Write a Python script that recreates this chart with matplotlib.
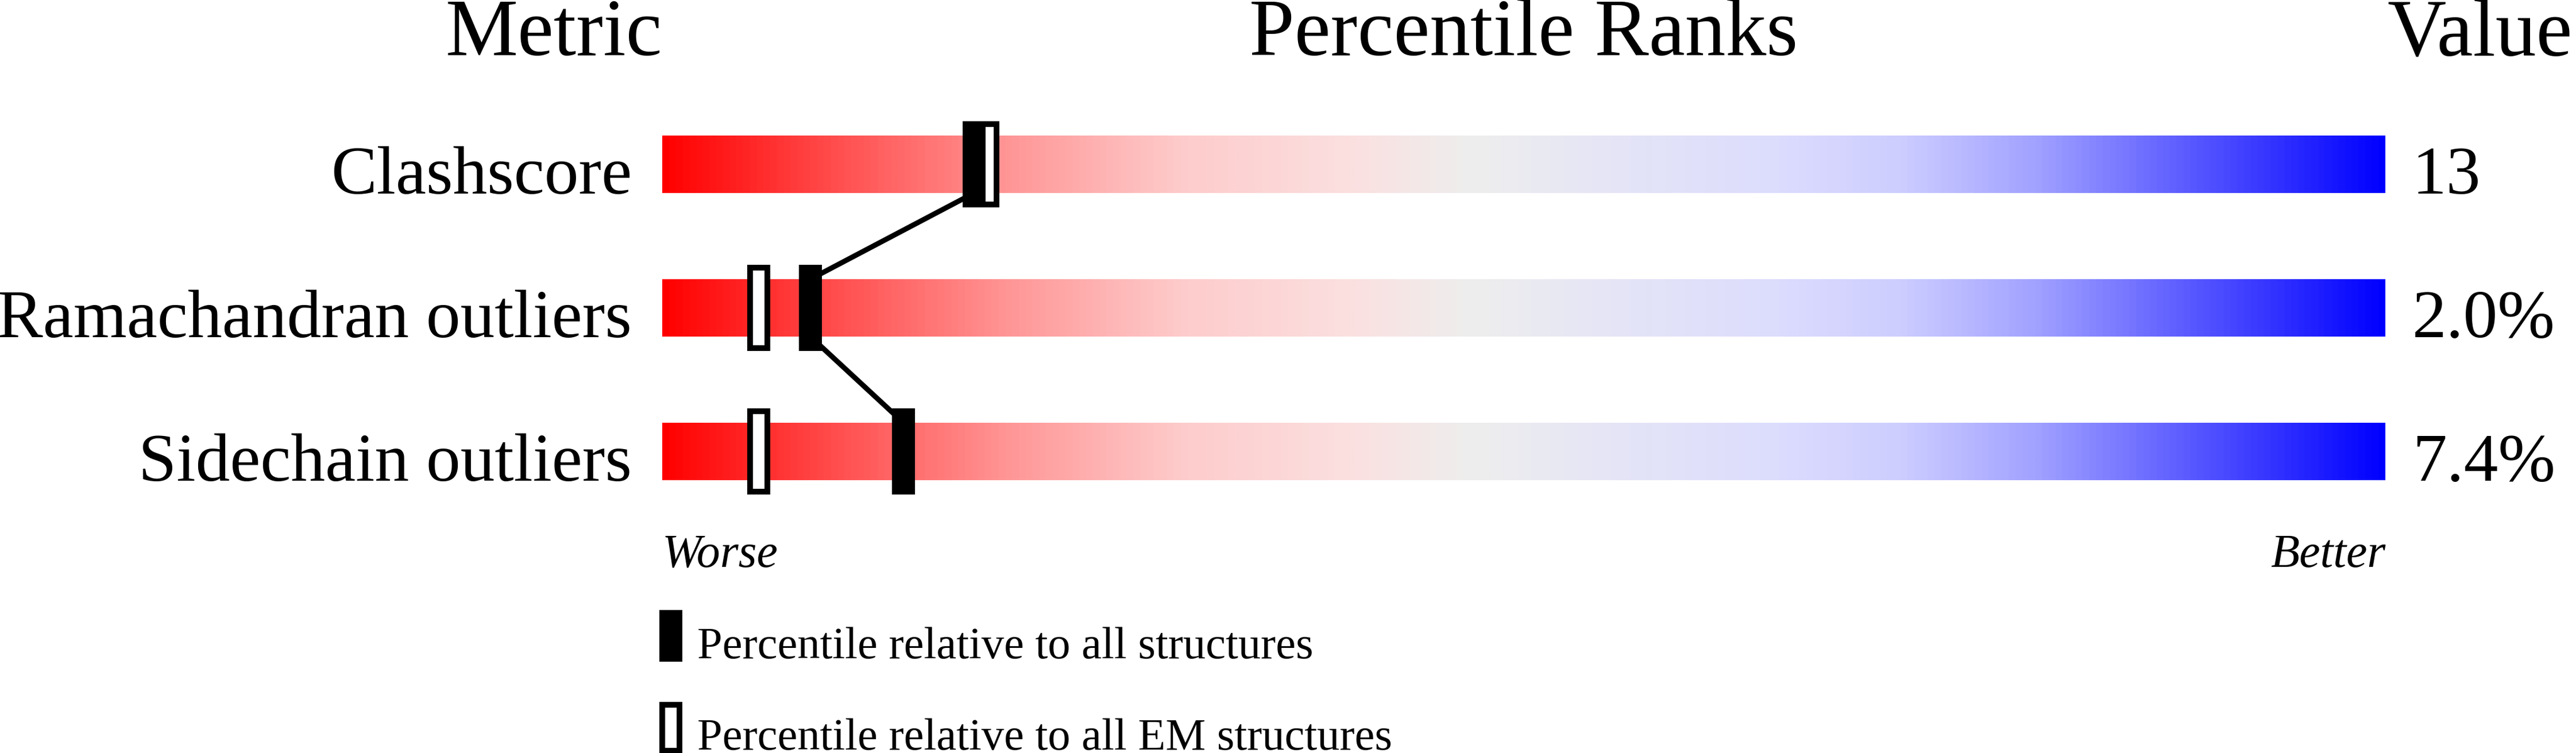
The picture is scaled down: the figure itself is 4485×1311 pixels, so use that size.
import numpy as np
import matplotlib
matplotlib.use("Agg")
import matplotlib.pyplot as plt
from matplotlib.colors import LinearSegmentedColormap
from matplotlib.patches import Rectangle

# ---- data ----
metrics = ["Clashscore", "Ramachandran outliers", "Sidechain outliers"]
values = ["13", "2.0%", "7.4%"]
pct_all = [18.1, 8.6, 14.0]   # percentile relative to all structures
pct_em = [18.9, 5.6, 5.6]     # percentile relative to all EM structures
headers = ["Metric", "Percentile Ranks", "Value"]
scale_ends = ["Worse", "Better"]
legend_labels = ["Percentile relative to all structures",
                 "Percentile relative to all EM structures"]

# ---- layout ----
W, H, DPI = 4485, 1311, 100
BAR_L, BAR_R = 1153, 4153
PX_PER_PCT = (BAR_R - BAR_L) / 100.0
ROW0, ROW_STEP = 286, 250
FONT = "Liberation Serif"


def dx(px):
    return (px - BAR_L) / PX_PER_PCT


def dy(py):
    return (py - ROW0) / ROW_STEP


def pt(px):
    return px * 72.0 / DPI


fig = plt.figure(figsize=(W / DPI, H / DPI), dpi=DPI)
ax = fig.add_axes([0, 0, 1, 1])

stops = [(0.0, (255, 0, 0)), (0.1, (255, 78, 78)), (0.2, (255, 150, 150)),
         (0.3, (254, 203, 203)), (0.4, (251, 224, 224)), (0.47, (238, 238, 238)),
         (0.55, (229, 229, 246)), (0.65, (220, 220, 254)), (0.72, (205, 205, 255)),
         (0.8, (160, 160, 255)), (0.9, (80, 80, 255)), (1.0, (0, 0, 255))]
cmap = LinearSegmentedColormap.from_list(
    "pr", [(s, tuple(c / 255.0 for c in col)) for s, col in stops])
grad = np.linspace(0, 1, 1024)[None, :]

bar_h = 100 / ROW_STEP
mk_w = 40 / PX_PER_PCT
mk_h = 150 / ROW_STEP
edge = 10  # px border of open marker

for i, name in enumerate(metrics):
    ax.imshow(grad, cmap=cmap, aspect="auto", interpolation="bilinear",
              extent=[0, 100, i + bar_h / 2, i - bar_h / 2], zorder=1)
    # open marker (EM)
    ax.add_patch(Rectangle((pct_em[i] - (mk_w - edge / PX_PER_PCT) / 2,
                            i - (mk_h - edge / ROW_STEP) / 2),
                           mk_w - edge / PX_PER_PCT, mk_h - edge / ROW_STEP,
                           facecolor="white", edgecolor="black",
                           linewidth=pt(edge), zorder=3))
    # filled marker (all)
    ax.add_patch(Rectangle((pct_all[i] - mk_w / 2, i - mk_h / 2), mk_w, mk_h,
                           facecolor="black", edgecolor="none", zorder=4))
    ax.text(dx(1100), i + dy(337), name, ha="right", va="baseline",
            fontsize=86, family=FONT)
    ax.text(dx(4200), i + dy(337), values[i], ha="left", va="baseline",
            fontsize=86, family=FONT)

for i in range(len(metrics) - 1):
    ax.plot([pct_all[i], pct_all[i + 1]], [i + bar_h / 2, i + 1 - bar_h / 2],
            color="black", lw=pt(9), solid_capstyle="butt", zorder=2)

# headers
ax.text(dx(1153), dy(96), headers[0], ha="right", va="baseline",
        fontsize=102, family=FONT)
ax.text(50, dy(96), headers[1], ha="center", va="baseline",
        fontsize=102, family=FONT)
ax.text(dx(4156), dy(97), headers[2], ha="left", va="baseline",
        fontsize=102, family=FONT)

# worse / better
ax.text(0, dy(987), scale_ends[0], ha="left", va="baseline", fontsize=59,
        family=FONT, style="italic")
ax.text(100, dy(987), scale_ends[1], ha="right", va="baseline", fontsize=59,
        family=FONT, style="italic")

# legend
lg_w = 40 / PX_PER_PCT
lg_h = 90 / ROW_STEP
lg_cx = dx(1168)
ax.add_patch(Rectangle((lg_cx - lg_w / 2, dy(1107) - lg_h / 2), lg_w, lg_h,
                       facecolor="black", edgecolor="none", zorder=4))
ax.add_patch(Rectangle((lg_cx - (lg_w - edge / PX_PER_PCT) / 2,
                        dy(1267) - (lg_h - edge / ROW_STEP) / 2),
                       lg_w - edge / PX_PER_PCT, lg_h - edge / ROW_STEP,
                       facecolor="white", edgecolor="black",
                       linewidth=pt(edge), zorder=4))
ax.text(dx(1214), dy(1146), legend_labels[0], ha="left", va="baseline",
        fontsize=56.5, family=FONT)
ax.text(dx(1214), dy(1305), legend_labels[1], ha="left", va="baseline",
        fontsize=56.5, family=FONT)

ax.set_xlim(-BAR_L / PX_PER_PCT, (W - BAR_L) / PX_PER_PCT)
ax.set_ylim((H - ROW0) / ROW_STEP, -ROW0 / ROW_STEP)
ax.axis("off")

fig.savefig("out.png", dpi=DPI, facecolor="white")
